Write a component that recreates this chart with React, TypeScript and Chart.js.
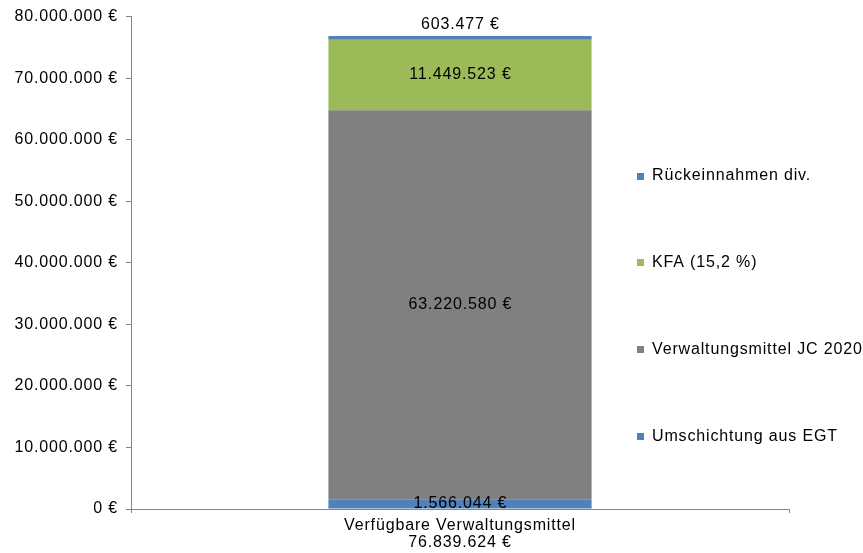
import { useEffect, useRef } from "react";
import { Chart, registerables } from "chart.js";

Chart.register(...registerables);

// Category and series data
const categories = ["Verfügbare Verwaltungsmittel"];
const seriesNames = [
  "Umschichtung aus EGT",
  "Verwaltungsmittel JC 2020",
  "KFA (15,2 %)",
  "Rückeinnahmen div.",
];
const umschichtungEGT = [1566044];
const verwaltungsmittelJC = [63220580];
const kfa = [11449523];
const rueckeinnahmen = [603477];
const seriesColors = ["#4F81BD", "#808080", "#9BBB59", "#4F81BD"];

// Value axis
const axisMin = 0;
const axisMax = 80000000;
const axisStep = 10000000;

const FONT_FAMILY = "'Liberation Sans', Arial, sans-serif";
const FONT_SIZE = 16;
const LETTER_SPACING = 0.85;
const AXIS_COLOR = "#868686";

function euro(v: number): string {
  const s = String(Math.round(v)).replace(/\B(?=(\d{3})+(?!\d))/g, ".");
  return s + " €";
}

const seriesValues = [umschichtungEGT, verwaltungsmittelJC, kfa, rueckeinnahmen];
const totals = categories.map((_, i) =>
  seriesValues.reduce((sum, arr) => sum + arr[i], 0)
);

// Applies the wider glyph spacing used by all texts of the chart
const spacingPlugin = {
  id: "letterSpacing",
  beforeUpdate(chart: any) {
    chart.ctx.letterSpacing = LETTER_SPACING + "px";
  },
  beforeLayout(chart: any) {
    chart.ctx.letterSpacing = LETTER_SPACING + "px";
  },
  beforeDraw(chart: any) {
    chart.ctx.letterSpacing = LETTER_SPACING + "px";
  },
};

// Value labels inside each segment; the last (thin) one sits above the bar
const valueLabelPlugin = {
  id: "valueLabels",
  afterDatasetsDraw(chart: any) {
    const ctx = chart.ctx;
    ctx.save();
    ctx.font = `${FONT_SIZE}px ${FONT_FAMILY}`;
    ctx.fillStyle = "#000";
    ctx.textAlign = "center";
    ctx.textBaseline = "middle";
    const last = chart.data.datasets.length - 1;
    chart.data.datasets.forEach((ds: any, i: number) => {
      const meta = chart.getDatasetMeta(i);
      meta.data.forEach((bar: any, j: number) => {
        const { x, y, base } = bar.getProps(["x", "y", "base"], true);
        const v = ds.data[j] as number;
        const ty = i === last ? Math.min(y, base) - 11 : (y + base) / 2;
        ctx.fillText(euro(v), x + LETTER_SPACING / 2, ty);
      });
    });
    ctx.restore();
  },
};

// Legend on the right, listed from top series to bottom series
const legendPlugin = {
  id: "sideLegend",
  afterDraw(chart: any) {
    const ctx = chart.ctx;
    ctx.save();
    ctx.font = `${FONT_SIZE}px ${FONT_FAMILY}`;
    ctx.textAlign = "left";
    ctx.textBaseline = "middle";
    const datasets = chart.data.datasets;
    const startY = 176;
    const gap = 86.7;
    const boxX = 637;
    const box = 7;
    for (let k = 0; k < datasets.length; k++) {
      const ds = datasets[datasets.length - 1 - k];
      const cy = startY + k * gap;
      ctx.fillStyle = ds.backgroundColor;
      ctx.fillRect(boxX, Math.round(cy - box / 2), box, box);
      ctx.fillStyle = "#000";
      ctx.fillText(ds.label, boxX + 15, cy);
    }
    ctx.restore();
  },
};

export default function App() {
  const canvasRef = useRef<HTMLCanvasElement | null>(null);

  useEffect(() => {
    const canvas = canvasRef.current;
    if (!canvas) return;
    const font = { family: FONT_FAMILY, size: FONT_SIZE, lineHeight: 1.08 };
    const chart = new Chart(canvas, {
      type: "bar",
      data: {
        labels: categories.map((c, i) => [c, euro(totals[i])]),
        datasets: seriesNames.map((name, i) => ({
          label: name,
          data: seriesValues[i],
          backgroundColor: seriesColors[i],
          borderWidth: 0,
          barPercentage: 0.5,
          categoryPercentage: 0.8,
        })),
      },
      options: {
        animation: false,
        responsive: false,
        layout: { padding: { top: 16, right: 74, left: 0, bottom: 0 } },
        plugins: {
          legend: { display: false },
          tooltip: { enabled: false },
        },
        scales: {
          x: {
            stacked: true,
            grid: {
              display: true,
              drawOnChartArea: false,
              tickLength: 4,
              color: AXIS_COLOR,
              offset: true,
            },
            border: { color: AXIS_COLOR, width: 1 },
            ticks: { color: "#000", font, padding: 4, maxRotation: 0 },
            afterFit: (s: any) => {
              s.height = 44;
            },
          },
          y: {
            stacked: true,
            min: axisMin,
            max: axisMax,
            grid: {
              drawOnChartArea: false,
              tickLength: 5,
              color: AXIS_COLOR,
            },
            border: { color: AXIS_COLOR, width: 1 },
            ticks: {
              stepSize: axisStep,
              color: "#000",
              font,
              padding: 8,
              callback: (v: any) => euro(Number(v)),
            },
            afterFit: (s: any) => {
              s.width = 131;
            },
          },
        },
      },
      plugins: [spacingPlugin, valueLabelPlugin, legendPlugin],
    });
    return () => chart.destroy();
  }, []);

  return (
    <div
      style={{
        position: "absolute",
        left: 0,
        top: 0,
        width: 863,
        height: 553,
        background: "#fff",
      }}
    >
      <canvas ref={canvasRef} width={863} height={553} />
    </div>
  );
}
